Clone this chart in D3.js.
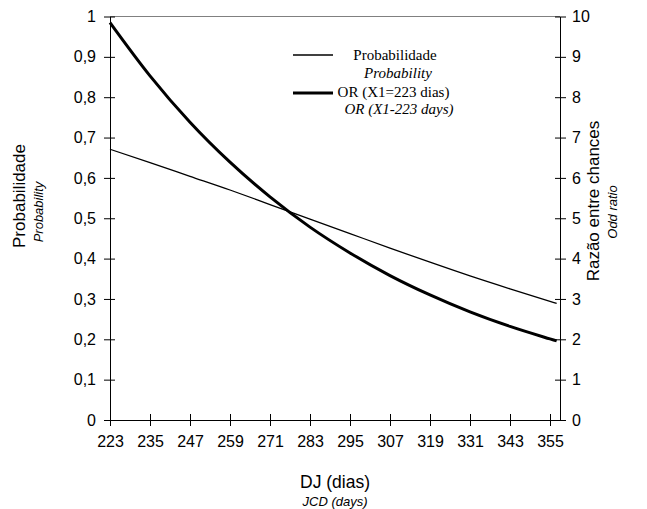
<!DOCTYPE html>
<html>
<head>
<meta charset="utf-8">
<script src="https://cdn.jsdelivr.net/npm/d3@7"></script>
<style>
  body { margin: 0; background: #fff; }
  svg { display: block; }
  .axis text { font-family: "Liberation Sans", Arial, sans-serif; font-size: 16px; fill: #000; }
  .axis line, .axis path { stroke: #000; }
</style>
</head>
<body>
<div id="chart"></div>
<script>
var days = [223, 235, 247, 259, 271, 283, 295, 307, 319, 331, 343, 355, 357];
// probability, left axis
var probValues = [0.671, 0.638, 0.604, 0.570, 0.534, 0.498, 0.462, 0.426, 0.391, 0.357, 0.325, 0.294, 0.289];
// odds ratio (X1 = 223 days), right axis
var orValues = [9.85, 8.53, 7.38, 6.39, 5.53, 4.78, 4.14, 3.58, 3.10, 2.68, 2.32, 2.01, 1.96];

var xTicks = [223, 235, 247, 259, 271, 283, 295, 307, 319, 331, 343, 355];
var probTicks = [0, 0.1, 0.2, 0.3, 0.4, 0.5, 0.6, 0.7, 0.8, 0.9, 1];
var orTicks = [0, 1, 2, 3, 4, 5, 6, 7, 8, 9, 10];

var width = 647, height = 509;

var x = d3.scaleLinear().domain([223, 358]).range([110, 560]);
var yL = d3.scaleLinear().domain([0, 1]).range([420, 16.5]);
var yR = d3.scaleLinear().domain([0, 10]).range([420, 16.5]);

var svg = d3.select('#chart').append('svg')
  .attr('width', width)
  .attr('height', height);

// top border of the plot
svg.append('line')
  .attr('x1', x.range()[0]).attr('x2', x.range()[1])
  .attr('y1', yL(1)).attr('y2', yL(1))
  .style('stroke', '#808080');

var comma = function(d) { return String(d).replace('.', ','); };

var gx = svg.append('g')
  .attr('class', 'axis')
  .attr('transform', 'translate(0,' + yL(0) + ')')
  .call(d3.axisBottom(x).tickValues(xTicks).tickSizeInner(6).tickSizeOuter(0).tickPadding(10));
gx.selectAll('.tick line').attr('y1', -6);

var gl = svg.append('g')
  .attr('class', 'axis')
  .attr('transform', 'translate(' + x(223) + ',0)')
  .call(d3.axisLeft(yL).tickValues(probTicks).tickFormat(comma).tickSizeInner(6).tickSizeOuter(0).tickPadding(8));
gl.selectAll('.tick line').attr('x1', 5);

var gr = svg.append('g')
  .attr('class', 'axis')
  .attr('transform', 'translate(' + x.range()[1] + ',0)')
  .call(d3.axisRight(yR).tickValues(orTicks).tickSizeInner(6).tickSizeOuter(0).tickPadding(6));
gr.selectAll('.tick line').attr('x1', -5);

// curves
var probLine = d3.line()
  .x(function(d, i) { return x(days[i]); })
  .y(function(d) { return yL(d); })
  .curve(d3.curveMonotoneX);
var orLine = d3.line()
  .x(function(d, i) { return x(days[i]); })
  .y(function(d) { return yR(d); })
  .curve(d3.curveMonotoneX);

svg.append('path')
  .attr('d', probLine(probValues))
  .style('fill', 'none').style('stroke', '#000').style('stroke-width', 1.3);
svg.append('path')
  .attr('d', orLine(orValues))
  .style('fill', 'none').style('stroke', '#000').style('stroke-width', 3);

// axis titles
var sans = '"Liberation Sans", Arial, sans-serif';
function title(txt, tx, ty, rot, size, italic) {
  svg.append('text')
    .attr('transform', 'translate(' + tx + ',' + ty + ')' + (rot ? ' rotate(-90)' : ''))
    .attr('text-anchor', 'middle')
    .style('font-family', sans)
    .style('font-size', size + 'px')
    .style('font-style', italic ? 'italic' : 'normal')
    .text(txt);
}
title('DJ (dias)', 335, 488, false, 17.5, false);
title('JCD (days)', 335, 506, false, 13, true);
title('Probabilidade', 25, 196, true, 17, false);
title('Probability', 43, 212, true, 13, true);
title('Razão entre chances', 599, 201, true, 17, false);
title('Odd ratio', 617, 212, true, 13, true);

// legend
var serif = '"Liberation Serif", "Times New Roman", serif';
var legend = svg.append('g');
legend.append('line')
  .attr('x1', 293).attr('x2', 333).attr('y1', 55).attr('y2', 55)
  .style('stroke', '#000').style('stroke-width', 1.3);
legend.append('line')
  .attr('x1', 293).attr('x2', 333).attr('y1', 93).attr('y2', 93)
  .style('stroke', '#000').style('stroke-width', 3);
var legendText = [
  { t: 'Probabilidade', x: 395, y: 60, it: false },
  { t: 'Probability', x: 398, y: 78, it: true },
  { t: 'OR (X1=223 dias)', x: 393.5, y: 97, it: false },
  { t: 'OR (X1-223 days)', x: 399, y: 114, it: true }
];
legend.selectAll('text')
  .data(legendText)
  .enter()
  .append('text')
  .attr('x', function(d) { return d.x; })
  .attr('y', function(d) { return d.y; })
  .attr('text-anchor', 'middle')
  .style('font-family', serif)
  .style('font-size', '15px')
  .style('font-style', function(d) { return d.it ? 'italic' : 'normal'; })
  .text(function(d) { return d.t; });
</script>
</body>
</html>
